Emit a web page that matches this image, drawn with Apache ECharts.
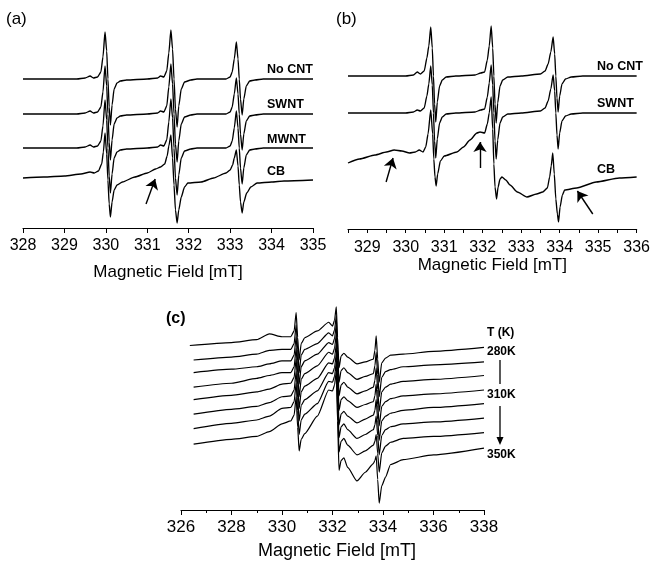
<!DOCTYPE html>
<html>
<head>
<meta charset="utf-8">
<title>EPR spectra</title>
<script src="https://cdn.jsdelivr.net/npm/echarts@6/dist/echarts.min.js"></script>
<style>
  html, body { margin: 0; padding: 0; background: #fff; }
  #chart { width: 653px; height: 561px; }
</style>
</head>
<body>
<div id="chart"></div>
<script>
// panel (a): [field mT, signal] relative to each trace's own baseline
const namesA = ['No CNT', 'SWNT', 'MWNT', 'CB'];
const offsetsA = [149, 114, 80, 48];
const noCntA = [[328.0,0],[329.3,0],[329.5,1],[329.62,3],[329.7,1],[329.8,2],[329.88,7],[329.93,22],[329.98,47],[330.02,28],[330.05,0],[330.08,-28],[330.11,-46],[330.15,-26],[330.2,-10],[330.27,-4],[330.35,-2],[330.5,-1],[331.0,0],[331.25,1],[331.32,3],[331.4,2],[331.47,8],[331.52,26],[331.57,49],[331.61,30],[331.645,0],[331.68,-30],[331.72,-48],[331.76,-27],[331.82,-10],[331.9,-3],[332.05,-1],[332.2,0],[332.9,0],[333.0,2],[333.05,7],[333.1,20],[333.15,37],[333.19,20],[333.22,0],[333.25,-20],[333.29,-36],[333.33,-20],[333.39,-7],[333.47,-2],[333.6,-1],[333.8,0],[335.0,0]];
const swntA = [[328.0,0],[329.3,0],[329.5,1],[329.62,3],[329.7,1],[329.8,2],[329.88,7],[329.93,22],[329.98,48],[330.02,28],[330.05,0],[330.08,-28],[330.11,-46],[330.15,-26],[330.2,-10],[330.27,-4],[330.35,-2],[330.5,-1],[331.0,0],[331.25,1],[331.32,3],[331.4,2],[331.47,8],[331.52,27],[331.57,50],[331.61,30],[331.645,0],[331.68,-30],[331.72,-48],[331.76,-27],[331.82,-10],[331.9,-3],[332.05,-1],[332.2,0],[332.9,0],[333.0,2],[333.05,7],[333.1,20],[333.15,36],[333.19,20],[333.22,0],[333.25,-20],[333.29,-36],[333.33,-20],[333.39,-7],[333.47,-2],[333.6,-1],[333.8,0],[335.0,0]];
const mwntA = [[328.0,0],[329.3,0],[329.5,1],[329.62,3],[329.7,1],[329.8,2],[329.88,7],[329.93,22],[329.98,48],[330.02,28],[330.05,0],[330.08,-28],[330.11,-45],[330.15,-26],[330.2,-10],[330.27,-4],[330.35,-2],[330.5,-1],[331.0,0],[331.25,1],[331.32,3],[331.4,2],[331.47,8],[331.52,26],[331.57,49],[331.61,30],[331.645,0],[331.68,-30],[331.72,-47],[331.76,-27],[331.82,-10],[331.9,-3],[332.05,-1],[332.2,0],[332.9,0],[333.0,2],[333.05,7],[333.1,20],[333.15,37],[333.19,20],[333.22,0],[333.25,-20],[333.29,-36],[333.33,-20],[333.39,-7],[333.47,-2],[333.6,-1],[333.8,0],[335.0,0]];
const cbA = [[328.0,2],[328.5,3],[329.0,4],[329.4,6],[329.62,8],[329.72,7],[329.82,9],[329.9,16],[329.94,28],[329.98,47],[330.02,26],[330.05,0],[330.08,-24],[330.11,-37],[330.15,-22],[330.2,-10],[330.27,-5],[330.4,-2],[330.7,3],[331.0,7],[331.2,11],[331.32,13],[331.42,16],[331.48,24],[331.52,34],[331.57,45],[331.61,22],[331.645,-5],[331.68,-30],[331.72,-43],[331.76,-30],[331.82,-17],[331.9,-7],[331.98,-3],[332.3,-2],[332.6,2],[332.9,7],[333.0,10],[333.06,15],[333.1,22],[333.15,30],[333.19,14],[333.22,-5],[333.25,-22],[333.29,-33],[333.33,-22],[333.4,-13],[333.5,-7],[333.65,-3],[334.0,-2],[334.3,-1],[335.0,0]];
const arrowA = [[330.97, 24], [331.19, 49]];

// panel (b)
const namesB = ['No CNT', 'SWNT', 'CB'];
const offsetsB = [153, 116, 60];
const noCntB = [[328.5,0],[330.0,0],[330.2,1],[330.3,4],[330.38,2],[330.48,5],[330.55,18],[330.6,30],[330.65,49],[330.69,28],[330.72,0],[330.75,-28],[330.78,-46],[330.82,-26],[330.88,-10],[330.95,-4],[331.05,-1],[331.3,0],[331.8,1],[331.95,3],[332.05,4],[332.12,16],[332.17,30],[332.22,50],[332.26,28],[332.29,0],[332.32,-28],[332.35,-47],[332.39,-27],[332.45,-10],[332.52,-4],[332.65,-1],[333.0,0],[333.5,2],[333.62,5],[333.7,12],[333.77,24],[333.83,39],[333.87,22],[333.9,0],[333.93,-22],[333.96,-36],[334.0,-20],[334.06,-8],[334.15,-3],[334.3,-1],[334.6,0],[336.0,0]];
const swntB = [[328.5,0],[330.0,0],[330.2,1],[330.3,3],[330.38,2],[330.48,5],[330.55,17],[330.6,29],[330.65,47],[330.69,28],[330.72,0],[330.75,-28],[330.78,-45],[330.82,-26],[330.88,-10],[330.95,-4],[331.05,-1],[331.3,0],[331.8,1],[331.95,3],[332.05,4],[332.12,16],[332.17,30],[332.22,48],[332.26,28],[332.29,0],[332.32,-28],[332.35,-46],[332.39,-27],[332.45,-10],[332.52,-4],[332.65,-1],[333.0,0],[333.5,2],[333.62,5],[333.7,12],[333.77,24],[333.83,38],[333.87,22],[333.9,0],[333.93,-22],[333.96,-36],[334.0,-20],[334.06,-8],[334.15,-3],[334.3,-1],[334.6,0],[336.0,0]];
const cbB = [[328.5,6],[328.8,10],[329.2,14],[329.5,17],[329.7,19],[329.9,18],[330.1,16],[330.25,17],[330.35,19],[330.45,17],[330.52,22],[330.58,35],[330.65,59],[330.7,35],[330.73,10],[330.76,-8],[330.79,-17],[330.83,-5],[330.9,8],[331.0,13],[331.33,17],[331.5,22],[331.67,29],[331.85,36],[331.93,37],[332.05,36],[332.12,45],[332.17,56],[332.22,72],[332.26,40],[332.29,5],[332.32,-18],[332.36,-30],[332.4,-18],[332.45,-10],[332.5,-8],[332.6,-11],[332.71,-16],[332.9,-23],[333.15,-28],[333.4,-25],[333.56,-23],[333.68,-19],[333.74,-8],[333.78,3],[333.82,16],[333.86,-5],[333.9,-30],[333.94,-45],[333.97,-53],[334.01,-38],[334.07,-26],[334.13,-21],[334.44,-19],[334.95,-13],[335.55,-9],[336.0,-8]];
const arrowsB = [
  [[329.49, 47], [329.67, 71]],
  [[331.93, 61], [331.93, 87]],
  [[334.86, 15], [334.46, 38]]
];

// panel (c): 280 K (top) to 350 K (bottom), shared field grid
const fieldsC = [326.5,328.0,329.0,329.5,330.0,330.35,330.48,330.56,330.62,330.68,330.76,330.9,331.4,331.85,332.0,332.08,332.15,332.2,332.26,332.34,332.45,332.6,332.97,333.3,333.62,333.68,333.73,333.79,333.85,333.95,334.1,334.3,334.8,336.0,338.0];
const startC = [326.35, 326.5, 326.5, 326.5, 326.5, 326.5, 326.5, 326.5];
const valuesC = [
  [170,173,176,182,179,179,185,204,178.5,155,172,178,185,194,190,196,210,178.5,147,159,162,158,151,153,156,165,180,156,132,152,157,160,161,164,168],
  [155,158,161,165,166,166,172,191,166,142,160,166,172,183,180,186,200,166,132,144,147,142,135,138,141,149,163,140,117,137,143,145,148,150,153],
  [142,145.5,148,151,154,154,160,179,154,130,148,154,161,173,171,177,191,154.5,118,129,132,127,120,123,127,134,147,124.5,102,122,127,130,133,135,139],
  [127,131,136,139,142,142,148,167,141.5,117,135,141,149,163,161,167,181,142,103,114,117,113,106,109,112,118,130,108.5,87,107,112,115,118,120,124],
  [114,118.5,122,125,130,131,137,156,129.5,105,122,128,136,152,151,157,171,129.5,88,99,102,97,90,94,98,103,114,93,72,92,97,100,103,106,110],
  [99,104,107,111,117,118,124,143,116,92,108,114,123,142,141,147,161,118,75,86,89,83,74,78,83,88,97,77,57,77,83,86,89,91,95],
  [84,89.5,93,97,105,106,112,131,102.5,78,93,99,110,133,132,138,152,106,60,71,74,67,57,61,67,71,78,58.5,39,59,66,70,74,76,80],
  [68,73,76,81,89,92,98,117,85.5,61,73,79,97,124,123,129,143,92,41,51,54,44,30,39,48,51,56,31.5,7,25,34,47,52,57,64]
];
const tempLabels = ['280K', '310K', '350K'];

const FONT = 'Liberation Sans, Arial, sans-serif';
const chart = echarts.init(document.getElementById('chart'));

function xAxis(idx, min, max, interval, extra) {
  return Object.assign({
    type: 'value', gridIndex: idx, min: min, max: max, interval: interval,
    name: 'Magnetic Field [mT]', nameLocation: 'middle',
    nameTextStyle: { color: '#000', fontFamily: FONT, fontSize: 17 },
    axisLine: { show: true, onZero: false, lineStyle: { color: '#000', width: 1.2 } },
    axisTick: { show: true, length: 5, lineStyle: { color: '#000', width: 1 } },
    axisLabel: { color: '#000', fontFamily: FONT, fontSize: 16, margin: 10 },
    splitLine: { show: false }
  }, extra);
}

function trace(axis, data) {
  return {
    type: 'line', xAxisIndex: axis, yAxisIndex: axis, data: data,
    showSymbol: false, symbol: 'none', smooth: 0.2, smoothMonotone: 'x',
    lineStyle: { color: '#000', width: 1.35 }, silent: true
  };
}

function arrows(list) {
  return {
    silent: true, symbol: ['none', 'arrow'], symbolSize: 10, animation: false,
    label: { show: false }, lineStyle: { color: '#000', width: 1.4, type: 'solid' },
    data: list.map(a => [{ coord: a[0] }, { coord: a[1] }])
  };
}

const series = [];
[noCntA, swntA, mwntA, cbA].forEach((d, i) => {
  series.push(trace(0, d.map(p => [p[0], p[1] + offsetsA[i]])));
});
series[3].markLine = arrows([arrowA]);
[noCntB, swntB, cbB].forEach((d, i) => {
  series.push(trace(1, d.map(p => [p[0], p[1] + offsetsB[i]])));
});
series[6].markLine = arrows(arrowsB);
valuesC.forEach((vals, k) => {
  const s = trace(2, vals.map((v, j) => [j === 0 ? startC[k] : fieldsC[j], v]));
  s.lineStyle.width = 1.2;
  series.push(s);
});

function label(text, x, y, size, bold) {
  return {
    type: 'text', x: x, y: y, silent: true,
    style: { text: text, fill: '#000', font: (bold ? 'bold ' : '') + size + 'px ' + FONT, verticalAlign: 'middle', align: 'left' }
  };
}

const graphic = [
  label('(a)', 6, 19, 17, false),
  label('(b)', 336, 19, 17, false),
  label('(c)', 166, 319, 16, true),
  label('T (K)', 487, 333, 12, true),
  label(tempLabels[0], 487, 352, 12, true),
  label(tempLabels[1], 487, 395, 12, true),
  label(tempLabels[2], 487, 455, 12, true),
  { type: 'line', silent: true, shape: { x1: 500, y1: 360, x2: 500, y2: 384 }, style: { stroke: '#000', lineWidth: 1.3 } },
  { type: 'line', silent: true, shape: { x1: 500, y1: 406, x2: 500, y2: 438 }, style: { stroke: '#000', lineWidth: 1.3 } },
  { type: 'polygon', silent: true, shape: { points: [[496.5, 437], [503.5, 437], [500, 445]] }, style: { fill: '#000' } }
];
namesA.forEach((n, i) => graphic.push(label(n, 267, [70, 105, 140, 172][i], 12.5, true)));
namesB.forEach((n, i) => graphic.push(label(n, 597, [67, 104, 170][i], 12.5, true)));

chart.setOption({
  animation: false,
  backgroundColor: '#fff',
  grid: [
    { left: 23, right: 340, top: 20, bottom: 333 },
    { left: 348, right: 16, top: 20, bottom: 332 },
    { left: 181, right: 169, top: 300, bottom: 44 }
  ],
  xAxis: [
    xAxis(0, 328, 335, 1, { nameGap: 36 }),
    xAxis(1, 328.5, 336, 0.5, {
      nameGap: 28,
      axisTick: { show: true, length: 4, lineStyle: { color: '#000', width: 1 } },
      axisLabel: { color: '#000', fontFamily: FONT, fontSize: 16, margin: 11,
        formatter: v => (Math.abs(v - Math.round(v)) < 1e-6 ? String(Math.round(v)) : '') }
    }),
    xAxis(2, 326, 338, 2, {
      nameGap: 32,
      nameTextStyle: { color: '#000', fontFamily: FONT, fontSize: 18, padding: [0, 0, 0, 9] },
      axisLabel: { color: '#000', fontFamily: FONT, fontSize: 17, margin: 9 },
      minorTick: { show: true, splitNumber: 2, length: 3, lineStyle: { color: '#000' } }
    })
  ],
  yAxis: [
    { type: 'value', gridIndex: 0, min: 0, max: 208, show: false },
    { type: 'value', gridIndex: 1, min: 0, max: 209, show: false },
    { type: 'value', gridIndex: 2, min: 0, max: 217, show: false }
  ],
  series: series,
  graphic: graphic
});

window.addEventListener('resize', () => chart.resize());
</script>
</body>
</html>
